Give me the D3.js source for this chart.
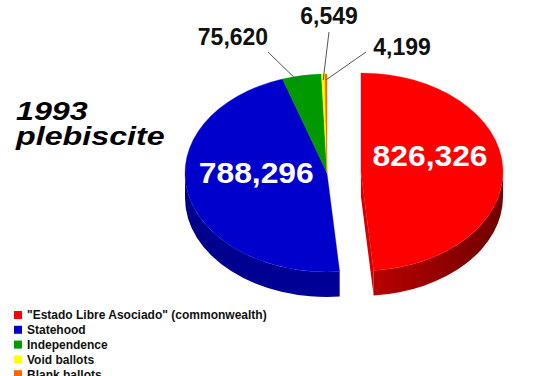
<!doctype html>
<html>
  <head>
    <script src="https://cdn.jsdelivr.net/npm/d3@7/dist/d3.min.js"></script>
    <style>
      body {
          margin: 0;
          background: #fff;
          font-family: "Liberation Sans", Arial, sans-serif;
      }
      .title {
          font-size: 25px;
          font-weight: bold;
          font-style: italic;
          fill: #000;
      }
      .inner-label {
          font-size: 30px;
          font-weight: bold;
          fill: #fff;
          text-anchor: middle;
      }
      .outer-label {
          font-size: 23px;
          font-weight: bold;
          fill: #111;
          text-anchor: middle;
      }
      .legend text {
          font-size: 12px;
          font-weight: bold;
          fill: #111;
      }
    </style>
  </head>
  <body>
    <script>
        // data
        var categories = ['"Estado Libre Asociado" (commonwealth)', "Statehood", "Independence", "Void ballots", "Blank ballots"];
        var votes = [826326, 788296, 75620, 6549, 4199];
        var colors = ["#ff0000", "#0000cc", "#009900", "#ffff00", "#ff6600"];
        var titleLines = ["1993", "plebiscite"];

        var width = 550, height = 376;
        var cx = 327, cy = 173, rx = 142, ry = 99, depth = 25, explode = 34;
        var fmt = d3.format(",");

        var svg = d3.select("body").append("svg")
            .attr("width", width)
            .attr("height", height);

        var defs = svg.append("defs");

        var pie = d3.pie().sort(null).value(d => d).startAngle(0).endAngle(2 * Math.PI);
        var arcs = pie(votes).map(function(a, i) {
            var mid = (a.startAngle + a.endAngle) / 2;
            var ox = i === 0 ? explode * Math.sin(mid) : 0;
            var oy = i === 0 ? -explode * (ry / rx) * Math.cos(mid) : 0;
            return Object.assign(a, { i: i, mid: mid, cx: cx + ox, cy: cy + oy });
        });

        function pt(d, a, r, dz) {
            return [d.cx + r * rx * Math.sin(a), d.cy - r * ry * Math.cos(a) + (dz || 0)];
        }

        function topPath(d) {
            var p0 = pt(d, d.startAngle, 1), p1 = pt(d, d.endAngle, 1);
            var large = d.endAngle - d.startAngle > Math.PI ? 1 : 0;
            return "M" + [d.cx, d.cy] + "L" + p0 + "A" + rx + "," + ry + " 0 " + large + " 1 " + p1 + "Z";
        }

        function sidePath(d) {
            var s0 = Math.max(d.startAngle, Math.PI / 2), s1 = Math.min(d.endAngle, 3 * Math.PI / 2);
            if (s0 >= s1) return null;
            var large = s1 - s0 > Math.PI ? 1 : 0;
            return "M" + pt(d, s0, 1) + "A" + rx + "," + ry + " 0 " + large + " 1 " + pt(d, s1, 1) +
                "L" + pt(d, s1, 1, depth) + "A" + rx + "," + ry + " 0 " + large + " 0 " + pt(d, s0, 1, depth) + "Z";
        }

        function facePath(d, a) {
            return "M" + [d.cx, d.cy] + "L" + pt(d, a, 1) + "L" + pt(d, a, 1, depth) + "L" + [d.cx, d.cy + depth] + "Z";
        }

        // side gradients
        arcs.forEach(function(d) {
            var c = d3.rgb(colors[d.i]);
            var g = defs.append("linearGradient")
                .attr("id", "side" + d.i)
                .attr("gradientUnits", "userSpaceOnUse")
                .attr("x1", d.cx - rx).attr("x2", d.cx + rx)
                .attr("y1", 0).attr("y2", 0);
            g.append("stop").attr("offset", 0).attr("stop-color", c.darker(1.1));
            g.append("stop").attr("offset", 0.5).attr("stop-color", c.darker(0.8));
            g.append("stop").attr("offset", 1).attr("stop-color", c.darker(2.3));
        });

        var pieG = svg.append("g");

        // cut faces that turn toward the viewer
        arcs.forEach(function(d) {
            var faces = [[d.startAngle, d.startAngle - Math.PI / 2], [d.endAngle, d.endAngle + Math.PI / 2]];
            faces.forEach(function(f) {
                if (-Math.cos(f[1]) > 0.01) {
                    pieG.append("path")
                        .attr("d", facePath(d, f[0]))
                        .attr("fill", d3.rgb(colors[d.i]).darker(0.5));
                }
            });
        });

        pieG.selectAll(".side")
            .data(arcs.filter(d => sidePath(d)))
            .enter().append("path")
            .attr("class", "side")
            .attr("d", sidePath)
            .attr("fill", d => "url(#side" + d.i + ")");

        pieG.selectAll(".top")
            .data(arcs)
            .enter().append("path")
            .attr("class", "top")
            .attr("d", topPath)
            .attr("fill", d => colors[d.i])
            .attr("stroke", d => colors[d.i])
            .attr("stroke-width", 0.3);

        // big labels inside the two main slices
        var innerOffsets = [[1, -4], [-4, 0]];
        pieG.selectAll(".inner-label")
            .data(arcs.slice(0, 2))
            .enter().append("text")
            .attr("class", "inner-label")
            .attr("transform", function(d, i) {
                var p = pt(d, d.mid, 0.48);
                return "translate(" + (p[0] + innerOffsets[i][0]) + "," + (p[1] + innerOffsets[i][1]) + ") scale(1.06,1)";
            })
            .text(d => fmt(d.value));

        // small slices: labels with leader lines
        var outerLabels = [[233, 45], [329, 24], [402, 55]];
        var leaderEnds = [[268, 52], [329, 32], [366, 52]];
        var small = arcs.slice(2);
        svg.selectAll(".leader")
            .data(small)
            .enter().append("line")
            .attr("class", "leader")
            .attr("x1", (d, i) => leaderEnds[i][0])
            .attr("y1", (d, i) => leaderEnds[i][1])
            .attr("x2", (d, i) => pt(d, d.mid, i === 0 ? 0.9 : 0.97)[0] - (i === 0 ? 5 : 0))
            .attr("y2", (d, i) => pt(d, d.mid, i === 0 ? 0.9 : 0.97)[1] + (i === 0 ? -3 : 3))
            .attr("stroke", "#555")
            .attr("stroke-width", 1);

        svg.selectAll(".outer-label")
            .data(small)
            .enter().append("text")
            .attr("class", "outer-label")
            .attr("x", (d, i) => outerLabels[i][0])
            .attr("y", (d, i) => outerLabels[i][1])
            .text(d => fmt(d.value));

        // title (slightly stretched like the original)
        svg.append("g")
            .attr("transform", "translate(16,0) scale(1.29,1)")
            .append("text")
            .attr("class", "title")
            .selectAll("tspan")
            .data(titleLines)
            .enter().append("tspan")
            .attr("x", 0)
            .attr("y", (d, i) => 120 + i * 25)
            .text(d => d);

        // legend
        var legend = svg.append("g")
            .attr("class", "legend")
            .attr("transform", "translate(14,311)");

        var item = legend.selectAll("g")
            .data(categories)
            .enter().append("g")
            .attr("transform", (d, i) => "translate(0," + (i * 14.8) + ")");

        item.append("rect")
            .attr("width", 8)
            .attr("height", 8)
            .attr("fill", (d, i) => colors[i]);

        item.append("text")
            .attr("x", 13)
            .attr("y", 4)
            .attr("dy", "0.36em")
            .text(d => d);
    </script>
  </body>
</html>
